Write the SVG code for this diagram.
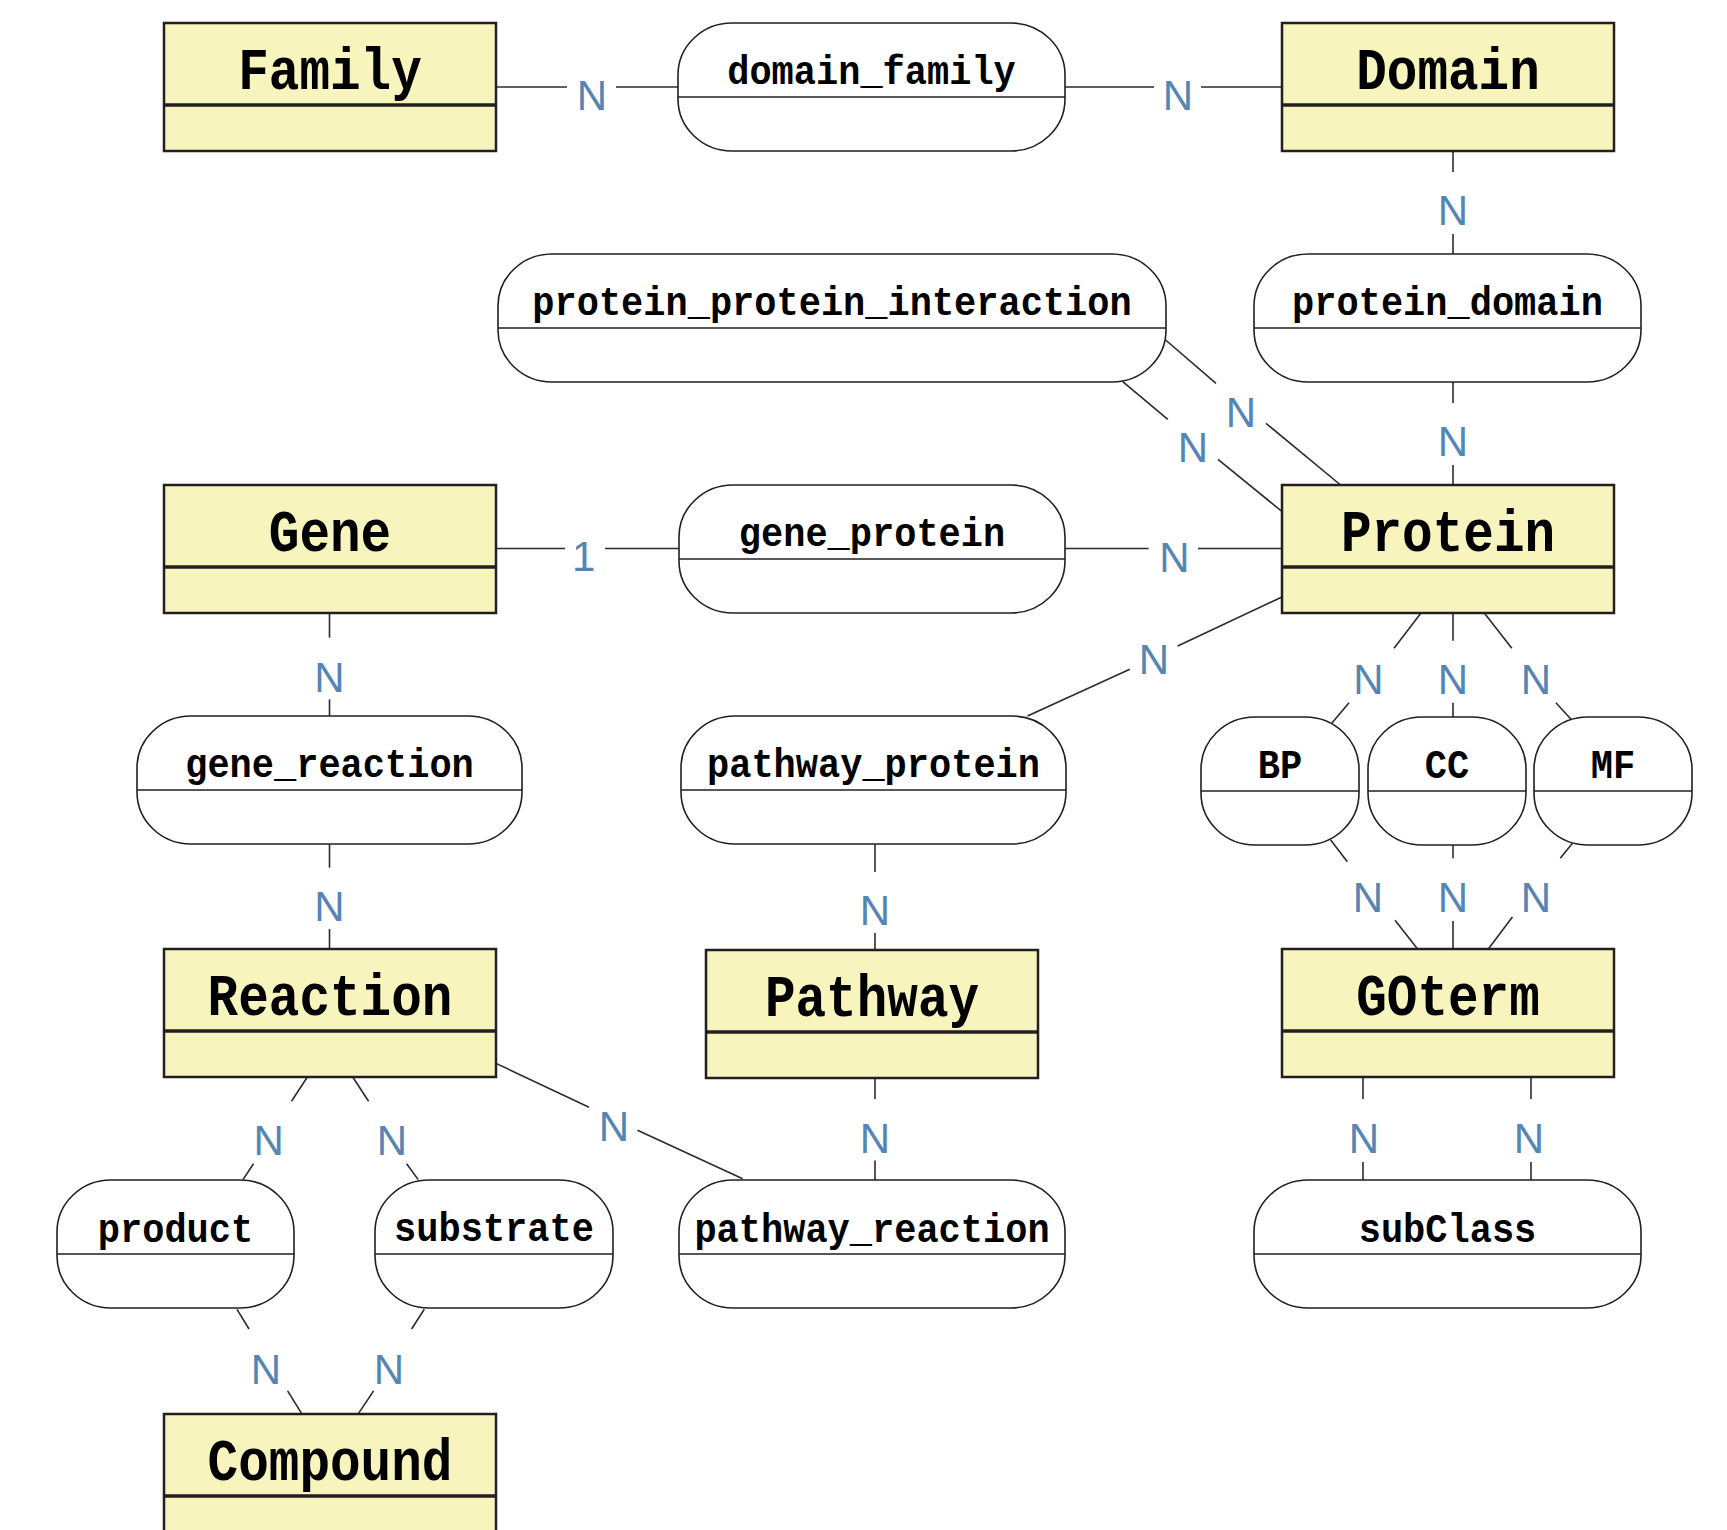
<svg xmlns="http://www.w3.org/2000/svg" width="1727" height="1530" viewBox="0 0 1727 1530">
<style>
.ent rect{fill:#f7f4bd;stroke:#231f20;stroke-width:2.5}
.ent line{stroke:#231f20;stroke-width:3.5}
.rel rect{fill:#fff;stroke:#231f20;stroke-width:1.6}
.rel line{stroke:#231f20;stroke-width:1.6}
.et{font-family:"Liberation Mono",monospace;font-weight:bold;font-size:51px;text-anchor:middle;fill:#000}
.rt{font-family:"Liberation Mono",monospace;font-weight:bold;font-size:37px;text-anchor:middle;fill:#000}
#connectors line{stroke:#2b2b2b;stroke-width:1.6;fill:none}
.lbl{font-family:"Liberation Sans",Arial,sans-serif;font-size:42px;text-anchor:middle;fill:#5585b5}
</style>
<rect width="1727" height="1530" fill="#fff"/>
<g id="connectors">
<line x1="496" y1="87" x2="567" y2="87"/><line x1="616" y1="87" x2="678" y2="87"/>
<line x1="1065" y1="87" x2="1154" y2="87"/><line x1="1201" y1="87" x2="1282" y2="87"/>
<line x1="1453" y1="151" x2="1453" y2="172"/><line x1="1453" y1="234" x2="1453" y2="254"/>
<line x1="1453" y1="382" x2="1453" y2="403"/><line x1="1453" y1="465" x2="1453" y2="485"/>
<line x1="1165.6" y1="340" x2="1216" y2="383.3"/><line x1="1266" y1="423.3" x2="1340.6" y2="485"/>
<line x1="1122.7" y1="381.7" x2="1167.8" y2="419.3"/><line x1="1218" y1="459.3" x2="1282" y2="511.5"/>
<line x1="496" y1="548.5" x2="565" y2="548.5"/><line x1="605" y1="548.5" x2="679" y2="548.5"/>
<line x1="1065" y1="548.5" x2="1148.6" y2="548.5"/><line x1="1198" y1="548.5" x2="1282" y2="548.5"/>
<line x1="1282" y1="597" x2="1177.7" y2="646"/><line x1="1129.8" y1="669.3" x2="1027.5" y2="716"/>
<line x1="329.5" y1="612.7" x2="329.5" y2="637.7"/><line x1="329.5" y1="699.3" x2="329.5" y2="716"/>
<line x1="329.5" y1="844.3" x2="329.5" y2="867.7"/><line x1="329.5" y1="929" x2="329.5" y2="949"/>
<line x1="875" y1="844.3" x2="875" y2="872"/><line x1="875" y1="933" x2="875" y2="950"/>
<line x1="875" y1="1078" x2="875" y2="1099"/><line x1="875" y1="1160.6" x2="875" y2="1180"/>
<line x1="1421" y1="613" x2="1394" y2="648.3"/><line x1="1349" y1="702.7" x2="1331.8" y2="723.3"/>
<line x1="1453" y1="613" x2="1453" y2="640.7"/><line x1="1453" y1="702.7" x2="1453" y2="717"/>
<line x1="1484.3" y1="613" x2="1511.8" y2="648.3"/><line x1="1555.9" y1="702.7" x2="1572.4" y2="720.7"/>
<line x1="1330.7" y1="840" x2="1347.3" y2="861.7"/><line x1="1395" y1="920.2" x2="1417.2" y2="948.5"/>
<line x1="1453" y1="845" x2="1453" y2="858.3"/><line x1="1453" y1="921" x2="1453" y2="948.5"/>
<line x1="1572.4" y1="843.3" x2="1560.3" y2="858.3"/><line x1="1512.4" y1="917" x2="1488.7" y2="948.5"/>
<line x1="1363" y1="1077" x2="1363" y2="1099"/><line x1="1363" y1="1162" x2="1363" y2="1180.4"/>
<line x1="1531" y1="1077" x2="1531" y2="1099"/><line x1="1531" y1="1162" x2="1531" y2="1180.4"/>
<line x1="306.9" y1="1077.8" x2="291.5" y2="1101.2"/><line x1="253.5" y1="1163.8" x2="243" y2="1179.6"/>
<line x1="353.2" y1="1077.8" x2="368.6" y2="1101.2"/><line x1="406.6" y1="1163.8" x2="418.2" y2="1179.6"/>
<line x1="237" y1="1309.3" x2="249" y2="1329"/><line x1="287.6" y1="1390.9" x2="301.4" y2="1413.1"/>
<line x1="424.3" y1="1309.3" x2="411.6" y2="1329"/><line x1="373.6" y1="1390.9" x2="358.7" y2="1413.1"/>
<line x1="496.5" y1="1063.6" x2="589" y2="1107.3"/><line x1="637.5" y1="1130.3" x2="742.7" y2="1178.8"/>
<text class="lbl" x="592" y="110">N</text>
<text class="lbl" x="1178" y="110">N</text>
<text class="lbl" x="1453" y="225">N</text>
<text class="lbl" x="1453" y="456">N</text>
<text class="lbl" x="1241" y="426.5">N</text>
<text class="lbl" x="1193" y="462">N</text>
<text class="lbl" x="583.6" y="571">1</text>
<text class="lbl" x="1174.3" y="571.7">N</text>
<text class="lbl" x="1154" y="674">N</text>
<text class="lbl" x="329.5" y="691.7">N</text>
<text class="lbl" x="329.5" y="921">N</text>
<text class="lbl" x="875" y="924.5">N</text>
<text class="lbl" x="875" y="1152.5">N</text>
<text class="lbl" x="1368.5" y="694">N</text>
<text class="lbl" x="1453" y="694">N</text>
<text class="lbl" x="1536" y="694">N</text>
<text class="lbl" x="1368" y="912">N</text>
<text class="lbl" x="1453" y="912">N</text>
<text class="lbl" x="1536" y="912">N</text>
<text class="lbl" x="1364" y="1152.5">N</text>
<text class="lbl" x="1529" y="1152.5">N</text>
<text class="lbl" x="268.6" y="1155">N</text>
<text class="lbl" x="392" y="1155">N</text>
<text class="lbl" x="266" y="1384">N</text>
<text class="lbl" x="389" y="1384">N</text>
<text class="lbl" x="613.8" y="1141">N</text>
</g>
<g id="Family" class="ent"><rect x="164" y="23" width="332" height="128"/><line x1="164" y1="105" x2="496" y2="105"/><text class="et" transform="translate(330,89) scale(1,1.15)">Family</text></g>
<g id="Domain" class="ent"><rect x="1282" y="23" width="332" height="128"/><line x1="1282" y1="105" x2="1614" y2="105"/><text class="et" transform="translate(1448,89) scale(1,1.15)">Domain</text></g>
<g id="Gene" class="ent"><rect x="164" y="485" width="332" height="128"/><line x1="164" y1="567" x2="496" y2="567"/><text class="et" transform="translate(330,551) scale(1,1.15)">Gene</text></g>
<g id="Protein" class="ent"><rect x="1282" y="485" width="332" height="128"/><line x1="1282" y1="567" x2="1614" y2="567"/><text class="et" transform="translate(1448,551) scale(1,1.15)">Protein</text></g>
<g id="Reaction" class="ent"><rect x="164" y="949" width="332" height="128"/><line x1="164" y1="1031" x2="496" y2="1031"/><text class="et" transform="translate(330,1015) scale(1,1.15)">Reaction</text></g>
<g id="Pathway" class="ent"><rect x="706" y="950" width="332" height="128"/><line x1="706" y1="1032" x2="1038" y2="1032"/><text class="et" transform="translate(872,1016) scale(1,1.15)">Pathway</text></g>
<g id="GOterm" class="ent"><rect x="1282" y="949" width="332" height="128"/><line x1="1282" y1="1031" x2="1614" y2="1031"/><text class="et" transform="translate(1448,1015) scale(1,1.15)">GOterm</text></g>
<g id="Compound" class="ent"><rect x="164" y="1414" width="332" height="128"/><line x1="164" y1="1496" x2="496" y2="1496"/><text class="et" transform="translate(330,1480) scale(1,1.15)">Compound</text></g>
<g id="domain_family" class="rel"><rect x="678" y="23" width="387" height="128" rx="54" ry="52"/><line x1="678" y1="97" x2="1065" y2="97"/><text class="rt" transform="translate(871.5,84) scale(1,1.08)">domain_family</text></g>
<g id="protein_protein_interaction" class="rel"><rect x="498" y="254" width="668" height="128" rx="54" ry="52"/><line x1="498" y1="328" x2="1166" y2="328"/><text class="rt" transform="translate(832,315) scale(1,1.08)">protein_protein_interaction</text></g>
<g id="protein_domain" class="rel"><rect x="1254" y="254" width="387" height="128" rx="54" ry="52"/><line x1="1254" y1="328" x2="1641" y2="328"/><text class="rt" transform="translate(1447.5,315) scale(1,1.08)">protein_domain</text></g>
<g id="gene_protein" class="rel"><rect x="679" y="485" width="386" height="128" rx="54" ry="52"/><line x1="679" y1="559" x2="1065" y2="559"/><text class="rt" transform="translate(872,546) scale(1,1.08)">gene_protein</text></g>
<g id="gene_reaction" class="rel"><rect x="137" y="716" width="385" height="128" rx="54" ry="52"/><line x1="137" y1="790" x2="522" y2="790"/><text class="rt" transform="translate(329.5,777) scale(1,1.08)">gene_reaction</text></g>
<g id="pathway_protein" class="rel"><rect x="681" y="716" width="385" height="128" rx="54" ry="52"/><line x1="681" y1="790" x2="1066" y2="790"/><text class="rt" transform="translate(873.5,777) scale(1,1.08)">pathway_protein</text></g>
<g id="BP" class="rel"><rect x="1201" y="717" width="158" height="128" rx="54" ry="52"/><line x1="1201" y1="791" x2="1359" y2="791"/><text class="rt" transform="translate(1280,778) scale(1,1.08)">BP</text></g>
<g id="CC" class="rel"><rect x="1368" y="717" width="158" height="128" rx="54" ry="52"/><line x1="1368" y1="791" x2="1526" y2="791"/><text class="rt" transform="translate(1447,778) scale(1,1.08)">CC</text></g>
<g id="MF" class="rel"><rect x="1534" y="717" width="158" height="128" rx="54" ry="52"/><line x1="1534" y1="791" x2="1692" y2="791"/><text class="rt" transform="translate(1613,778) scale(1,1.08)">MF</text></g>
<g id="product" class="rel"><rect x="57" y="1180" width="237" height="128" rx="54" ry="52"/><line x1="57" y1="1254" x2="294" y2="1254"/><text class="rt" transform="translate(175.5,1242) scale(1,1.08)">product</text></g>
<g id="substrate" class="rel"><rect x="375" y="1180" width="238" height="128" rx="54" ry="52"/><line x1="375" y1="1254" x2="613" y2="1254"/><text class="rt" transform="translate(494,1241) scale(1,1.08)">substrate</text></g>
<g id="pathway_reaction" class="rel"><rect x="679" y="1180" width="386" height="128" rx="54" ry="52"/><line x1="679" y1="1254" x2="1065" y2="1254"/><text class="rt" transform="translate(872,1242) scale(1,1.08)">pathway_reaction</text></g>
<g id="subClass" class="rel"><rect x="1254" y="1180" width="387" height="128" rx="54" ry="52"/><line x1="1254" y1="1254" x2="1641" y2="1254"/><text class="rt" transform="translate(1447.5,1242) scale(1,1.08)">subClass</text></g>
</svg>
